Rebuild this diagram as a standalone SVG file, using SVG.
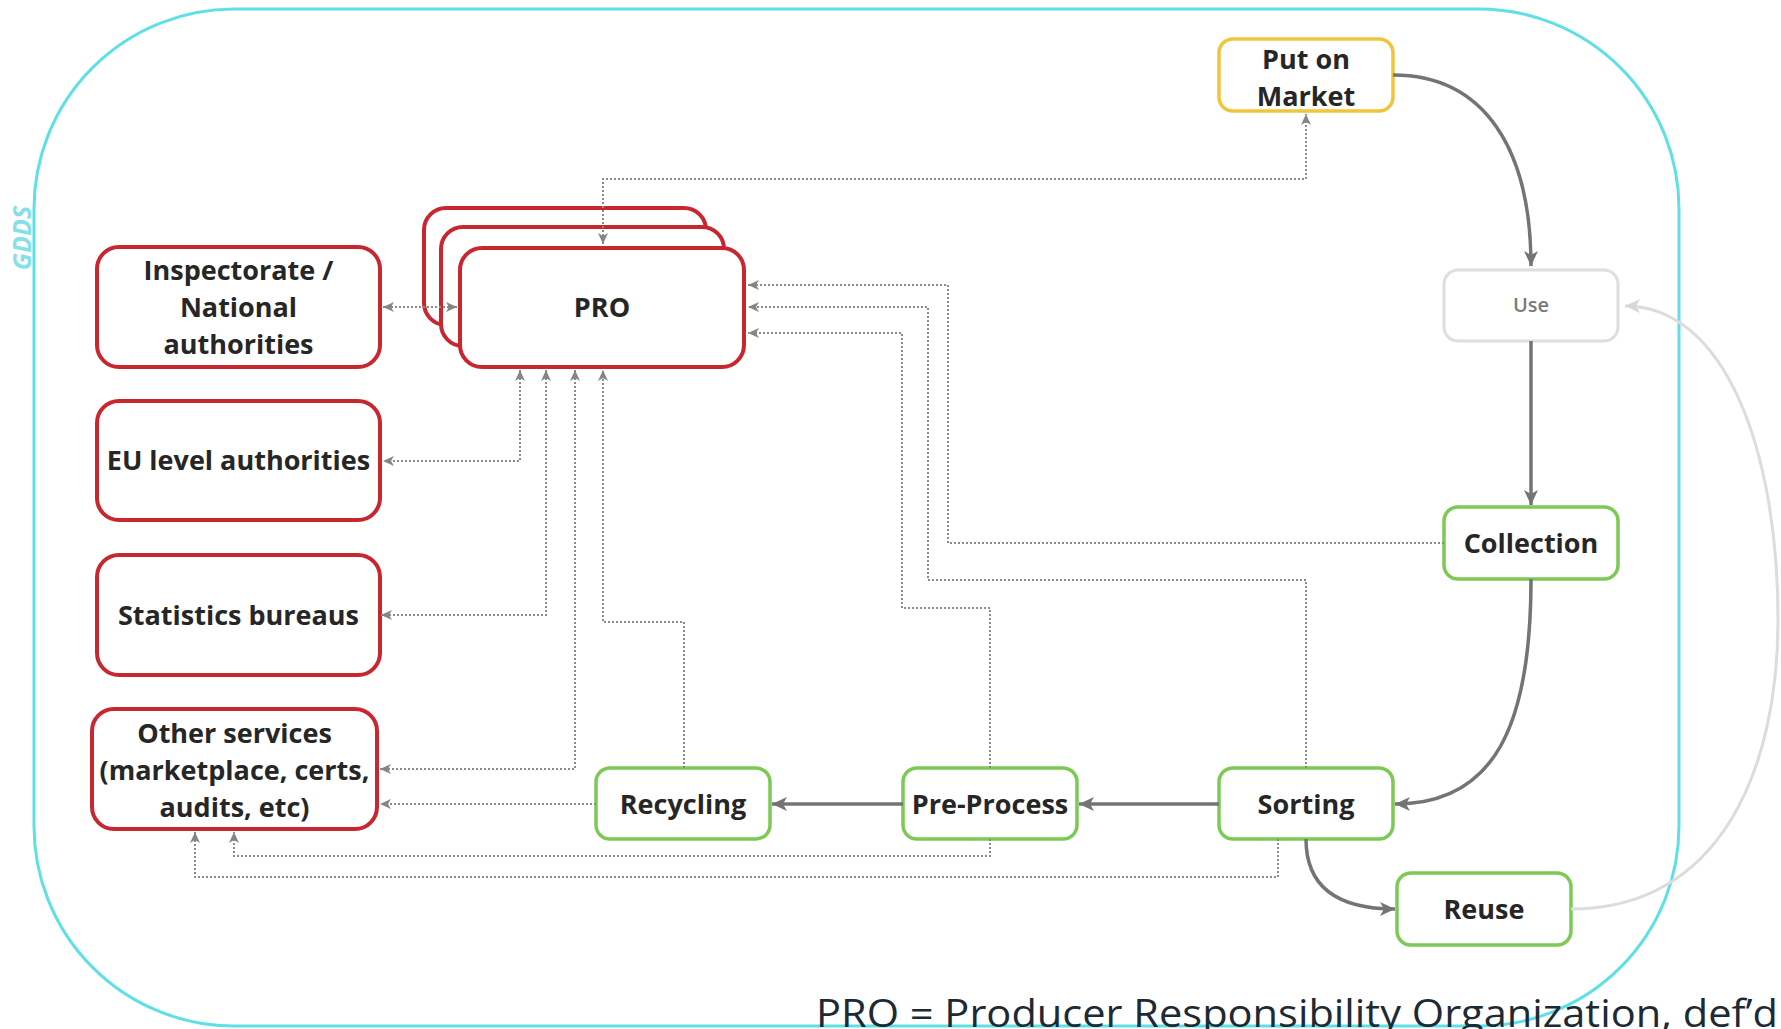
<svg xmlns="http://www.w3.org/2000/svg" width="1781" height="1029" viewBox="0 0 1781 1029">
<style>
.red{fill:#fff;stroke:#c8272f;stroke-width:4}
.grn{fill:#fff;stroke:#7cc954;stroke-width:3.5}
.yel{fill:#fff;stroke:#f0c53a;stroke-width:3.5}
.use{fill:#fff;stroke:#dedede;stroke-width:3}
.t{font-family:"Open Sans","Noto Sans",sans-serif;font-weight:700;font-size:27px;fill:#262626;text-anchor:middle}
.solid{fill:none;stroke:#747474;stroke-width:3.5}
.light{fill:none;stroke:#dcdcdc;stroke-width:3}
.dot{fill:none;stroke:#8a8a8a;stroke-width:2;stroke-dasharray:2 2}
</style>
<defs>
<marker id="aS" markerUnits="userSpaceOnUse" markerWidth="16" markerHeight="16" refX="15" refY="8" orient="auto"><path d="M0,1 L15,8 L0,15 L4,8 z" fill="#747474"/></marker>
<marker id="aL" markerUnits="userSpaceOnUse" markerWidth="16" markerHeight="16" refX="15" refY="8" orient="auto"><path d="M0,1 L15,8 L0,15 L4,8 z" fill="#d8d8d8"/></marker>
<marker id="aD" markerUnits="userSpaceOnUse" markerWidth="12" markerHeight="12" refX="11" refY="6" orient="auto-start-reverse"><path d="M0,1 L11,6 L0,11 L3,6 z" fill="#858585"/></marker>
</defs>
<rect width="1781" height="1029" fill="#fff"/>
<g id="container">
<rect x="34" y="9" width="1645" height="1017" rx="200" ry="200" fill="none" stroke="#5fe0e6" stroke-width="3"/>
<text transform="translate(31,238) rotate(-90)" font-family="'Open Sans',sans-serif" font-weight="700" font-style="italic" font-size="25" fill="#86e0e8" text-anchor="middle">GDDS</text>
</g>
<g id="inspectorate">
<rect class="red" x="97" y="247" width="283" height="120" rx="22"/>
<text class="t" x="238.5" y="280">Inspectorate /</text>
<text class="t" x="238.5" y="317">National</text>
<text class="t" x="238.5" y="354">authorities</text>
</g>
<g id="eu">
<rect class="red" x="97" y="401" width="283" height="119" rx="22"/>
<text class="t" x="238.5" y="470">EU level authorities</text>
</g>
<g id="statistics">
<rect class="red" x="97" y="555" width="283" height="120" rx="22"/>
<text class="t" x="238.5" y="625">Statistics bureaus</text>
</g>
<g id="other">
<rect class="red" x="92" y="709" width="285" height="120" rx="22"/>
<text class="t" x="234.5" y="743">Other services</text>
<text class="t" x="234.5" y="780">(marketplace, certs,</text>
<text class="t" x="234.5" y="817">audits, etc)</text>
</g>
<g id="pro">
<rect class="red" x="424" y="208" width="282" height="117" rx="22"/>
<rect class="red" x="441" y="227" width="283" height="119" rx="22"/>
<rect class="red" x="460" y="248" width="284" height="119" rx="22"/>
<text class="t" x="602" y="317">PRO</text>
</g>
<g id="market">
<rect class="yel" x="1219" y="39" width="174" height="72" rx="14"/>
<text class="t" x="1306" y="69">Put on</text>
<text class="t" x="1306" y="106">Market</text>
</g>
<g id="use">
<rect class="use" x="1444" y="270" width="174" height="71" rx="14"/>
<text x="1531" y="312" font-family="'Open Sans',sans-serif" font-weight="600" font-size="20" fill="#7a7a7a" text-anchor="middle">Use</text>
</g>
<g id="collection">
<rect class="grn" x="1444" y="507" width="174" height="72" rx="14"/>
<text class="t" x="1531" y="553">Collection</text>
</g>
<g id="sorting">
<rect class="grn" x="1219" y="768" width="174" height="71" rx="14"/>
<text class="t" x="1306" y="814">Sorting</text>
</g>
<g id="preprocess">
<rect class="grn" x="903" y="768" width="174" height="71" rx="14"/>
<text class="t" x="990" y="814">Pre-Process</text>
</g>
<g id="recycling">
<rect class="grn" x="596" y="768" width="174" height="71" rx="14"/>
<text class="t" x="683" y="814">Recycling</text>
</g>
<g id="reuse">
<rect class="grn" x="1397" y="873" width="174" height="72" rx="14"/>
<text class="t" x="1484" y="919">Reuse</text>
</g>
<g id="connectors">
<path class="solid" d="M1393 75 C1485 75,1531 150,1531 266" marker-end="url(#aS)"/>
<path class="solid" d="M1531 341 L1531 505" marker-end="url(#aS)"/>
<path class="solid" d="M1531 579 C1531 725,1495 804,1395 804" marker-end="url(#aS)"/>
<path class="solid" d="M1219 804 L1079 804" marker-end="url(#aS)"/>
<path class="solid" d="M903 804 L772 804" marker-end="url(#aS)"/>
<path class="solid" d="M1306 839 C1306 885,1335 909,1395 909" marker-end="url(#aS)"/>
<path class="light" d="M1571 909 C1720 909,1778 770,1778 620 C1778 450,1725 306,1625 306" marker-end="url(#aL)"/>
<path class="dot" d="M603 244 L603 179 L1306 179 L1306 114" marker-start="url(#aD)" marker-end="url(#aD)"/>
<path class="dot" d="M383 307 L457 307" marker-start="url(#aD)" marker-end="url(#aD)"/>
<path class="dot" d="M520 370 L520 461 L383 461" marker-start="url(#aD)" marker-end="url(#aD)"/>
<path class="dot" d="M546 370 L546 615 L381 615" marker-start="url(#aD)" marker-end="url(#aD)"/>
<path class="dot" d="M575 370 L575 769 L380 769" marker-start="url(#aD)" marker-end="url(#aD)"/>
<path class="dot" d="M684 768 L684 622 L603 622 L603 370" marker-end="url(#aD)"/>
<path class="dot" d="M1444 543 L948 543 L948 285 L748 285" marker-end="url(#aD)"/>
<path class="dot" d="M1306 768 L1306 580 L928 580 L928 307 L748 307" marker-end="url(#aD)"/>
<path class="dot" d="M990 768 L990 608 L902 608 L902 333 L748 333" marker-end="url(#aD)"/>
<path class="dot" d="M596 804 L380 804" marker-end="url(#aD)"/>
<path class="dot" d="M990 839 L990 856 L234 856 L234 832" marker-end="url(#aD)"/>
<path class="dot" d="M1278 839 L1278 877 L195 877 L195 832" marker-end="url(#aD)"/>
</g>
<text x="816" y="1027" font-family="'Open Sans',sans-serif" font-size="38" fill="#1c2a35" textLength="962" lengthAdjust="spacingAndGlyphs">PRO = Producer Responsibility Organization, def’d</text>
</svg>
